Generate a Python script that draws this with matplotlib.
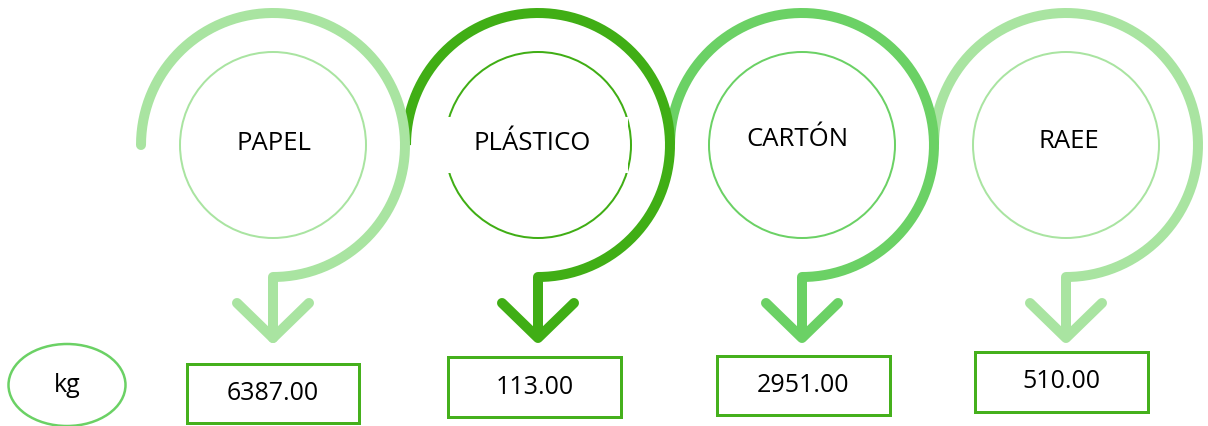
import numpy as np
import matplotlib
matplotlib.use("Agg")
import matplotlib.pyplot as plt
from matplotlib.patches import Circle, Rectangle, Ellipse

# ---- data ----
categories = ["PAPEL", "PLÁSTICO", "CARTÓN", "RAEE"]
values = [6387.00, 113.00, 2951.00, 510.00]
unit = "kg"

# ---- style ----
arc_colors = ["#A9E4A1", "#40AE15", "#6BD165", "#A9E4A1"]
box_color = "#45B01C"
font = ["Open Sans", "DejaVu Sans"]

W, H = 1208, 426
fig = plt.figure(figsize=(W / 100, H / 100), dpi=100)
ax = fig.add_axes([0, 0, 1, 1])
ax.set_xlim(0, W)
ax.set_ylim(H, 0)
ax.set_aspect("equal")
ax.axis("off")

px = 72 / 100  # points per pixel
centers_x = [273, 538, 802, 1066]
cy, R, r_in = 145, 132, 93
tip_y, arm_y, arm_dx = 338, 303, 36
label_pos = [(274, 143), (532, 143), (797, 140), (1069, 142)]
boxes = [(187, 364, 172, 59), (448, 357, 173, 60), (717, 356, 173, 59), (975, 352, 173, 60)]
fs_label, fs_num = 18.5, 18.0

n = len(categories)
for i, (cat, val, col, cx) in enumerate(zip(categories, values, arc_colors, centers_x)):
    z = 10 + (n - i) * 3
    th = np.radians(np.linspace(180, -90, 300))
    xs = cx + R * np.cos(th)
    ys = cy - R * np.sin(th)
    xs = np.append(xs, cx)
    ys = np.append(ys, tip_y)
    ax.plot(xs, ys, color=col, lw=10 * px, solid_capstyle="round" if i == 0 else "butt",
            solid_joinstyle="round", zorder=z)
    ax.plot([cx - arm_dx, cx, cx + arm_dx], [arm_y, tip_y, arm_y], color=col, lw=10 * px,
            solid_capstyle="round", solid_joinstyle="round", zorder=z)
    ax.add_patch(Circle((cx, cy), r_in, fill=False, ec=col, lw=2 * px, zorder=z))
    if i == 1:
        ax.add_patch(Rectangle((440, 117), 188, 56, fc="white", ec="none", zorder=z + 0.5))
    lx, ly = label_pos[i]
    ax.text(lx, ly, cat, ha="center", va="center", fontsize=fs_label, family=font,
            color="black", zorder=z + 1)
    bx, by, bw, bh = boxes[i]
    ax.add_patch(Rectangle((bx, by), bw, bh, fill=False, ec=box_color, lw=3 * px, zorder=50))
    ax.text(bx + bw / 2, by + bh / 2, f"{val:.2f}", ha="center", va="center",
            fontsize=fs_num, family=font, color="black", zorder=51)

ax.add_patch(Ellipse((67, 385), 117, 82, fill=False, ec="#6BD165", lw=2.5 * px, zorder=50))
ax.text(67, 385, unit, ha="center", va="center", fontsize=fs_num, family=font,
        color="black", zorder=51)

fig.savefig("out.png", dpi=100)
